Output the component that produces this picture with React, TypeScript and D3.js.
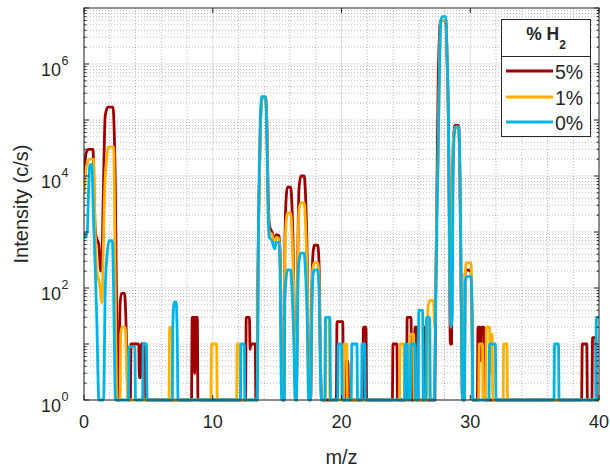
import React from 'react';
import * as d3 from 'd3';

// ---- data (m/z, intensity in c/s) ----
const xTicks = [0, 10, 20, 30, 40];
const yTickExps = [0, 2, 4, 6];
const seriesNames = ['5%', '1%', '0%'];
const seriesColors = ['#9E0000', '#FFB000', '#00B4E6'];

const h2_5: [number, number][] = [
  [0, 1e4], [0.15, 2.5e4], [0.35, 3e4], [0.7, 3e4], [0.8, 3000], [0.9, 950], [1.05, 700], [1.15, 600], [1.3, 200], [1.38, 250], [1.5, 5000], [1.65, 1.2e5], [1.85, 1.7e5], [2.25, 1.7e5], [2.35, 6e4], [2.43, 7500], [2.5, 200], [2.55, 20], [2.62, 1], [2.72, 1], [2.8, 50], [2.9, 80], [3.15, 80], [3.25, 30], [3.33, 6], [3.42, 1], [3.6, 1], [3.65, 10], [4.25, 10], [4.3, 2.5], [4.4, 2.5], [4.45, 10], [4.75, 10], [4.8, 1],
  [8.35, 1], [8.4, 30], [8.55, 30], [8.6, 3], [8.65, 30], [8.8, 30], [8.85, 1],
  [12.55, 1], [12.6, 30], [12.85, 30], [12.9, 8], [12.95, 10], [13.3, 10], [13.35, 1], [13.45, 1], [13.5, 100], [13.6, 5000], [13.7, 8e4], [13.85, 2.5e5], [14.1, 2.5e5], [14.2, 1e5], [14.3, 5000], [14.4, 1300], [14.6, 1000], [14.8, 750], [14.95, 900], [15.15, 850], [15.25, 300], [15.35, 3], [15.45, 1], [15.55, 1], [15.6, 500], [15.7, 4000], [15.8, 6300], [16.05, 6300], [16.15, 3000], [16.3, 100], [16.4, 2], [16.5, 1], [16.6, 300], [16.7, 6000], [16.85, 1e4], [17.1, 1e4], [17.2, 5000], [17.35, 200], [17.45, 2], [17.6, 1], [17.7, 100], [17.8, 450], [17.9, 580], [18.15, 580], [18.25, 300], [18.35, 10], [18.45, 1],
  [19.6, 1], [19.65, 25], [20.1, 25], [20.15, 1], [20.3, 1], [20.35, 5], [20.5, 5], [20.55, 1], [21.65, 1], [21.7, 20], [21.9, 20], [21.95, 1],
  [23.95, 1], [24.0, 10], [24.3, 10], [24.35, 1], [25.05, 1], [25.1, 30], [25.4, 30], [25.45, 1], [25.65, 1], [25.7, 20], [25.9, 20], [25.95, 1], [26.35, 1], [26.4, 20], [26.55, 20], [26.6, 1],
  [27.25, 1], [27.3, 30], [27.4, 3000], [27.5, 3.4e5], [27.6, 3e6], [27.7, 6e6], [28.1, 6e6], [28.2, 1.2e6], [28.3, 1e5], [28.4, 200], [28.45, 10], [28.55, 10], [28.6, 3000], [28.7, 5e4], [28.8, 8e4], [29.1, 8e4], [29.2, 9000], [29.3, 60], [29.4, 1], [29.55, 1], [29.6, 180], [29.7, 210], [30.05, 200], [30.15, 20], [30.2, 1],
  [30.55, 1], [30.6, 20], [30.75, 20], [30.8, 5], [30.85, 20], [31.05, 20], [31.1, 1], [38.65, 1], [38.7, 10], [39.05, 10], [39.1, 1], [39.45, 1], [39.5, 13], [39.75, 13], [39.8, 1], [40, 1],
];

const h2_1: [number, number][] = [
  [0, 5000], [0.2, 1.5e4], [0.45, 2e4], [0.75, 2e4], [0.85, 1500], [1.0, 200], [1.2, 120], [1.4, 55], [1.5, 500], [1.6, 5000], [1.75, 2e4], [1.9, 3.3e4], [2.3, 3.3e4], [2.38, 2000], [2.43, 90], [2.5, 5], [2.55, 1], [2.8, 1], [2.85, 15], [2.95, 20], [3.2, 20], [3.3, 5], [3.4, 1],
  [6.6, 1], [6.65, 20], [6.85, 20], [6.9, 1], [9.85, 1], [9.9, 10], [10.3, 10], [10.35, 1], [11.85, 1], [11.9, 10], [12.1, 10], [12.15, 1],
  [13.45, 1], [13.5, 50], [13.6, 4000], [13.7, 7e4], [13.85, 2.4e5], [14.1, 2.4e5], [14.2, 8e4], [14.3, 3000], [14.4, 1000], [14.6, 900], [14.8, 650], [14.95, 800], [15.15, 750], [15.25, 200], [15.35, 2], [15.45, 1], [15.55, 1], [15.6, 300], [15.7, 1500], [15.8, 2200], [16.05, 2200], [16.15, 1000], [16.3, 60], [16.4, 2], [16.5, 1], [16.6, 200], [16.7, 2500], [16.85, 3300], [17.1, 3300], [17.2, 1500], [17.35, 100], [17.45, 2], [17.6, 1], [17.7, 80], [17.8, 250], [17.9, 280], [18.15, 280], [18.25, 150], [18.35, 8], [18.45, 1],
  [18.75, 1], [18.8, 30], [19.05, 30], [19.1, 1], [20.15, 1], [20.2, 10], [20.4, 10], [20.45, 1],
  [24.5, 1], [24.55, 10], [24.85, 10], [24.9, 1], [25.3, 1], [25.35, 15], [25.6, 15], [25.65, 1], [26.65, 1], [26.7, 40], [26.85, 60], [27.15, 60], [27.25, 20], [27.3, 60], [27.4, 2000], [27.5, 2e4], [27.6, 8e5], [27.7, 6e6], [28.1, 6e6], [28.2, 1.3e6], [28.3, 1.2e5], [28.4, 400], [28.5, 20], [28.6, 2000], [28.7, 5e4], [28.85, 7.5e4], [29.1, 7.5e4], [29.2, 9000], [29.3, 60], [29.4, 1], [29.55, 1], [29.6, 150], [29.7, 280], [30.05, 280], [30.15, 20], [30.2, 1],
  [30.65, 1], [30.7, 10], [30.95, 10], [31.0, 1], [31.2, 1], [31.25, 20], [31.5, 20], [31.55, 3], [31.6, 15], [31.7, 15], [31.75, 1], [32.55, 1], [32.6, 10], [32.85, 10], [32.9, 1], [40, 1],
];

const h2_0: [number, number][] = [
  [0, 950], [0.1, 800], [0.25, 1000], [0.35, 5000], [0.45, 1.6e4], [0.6, 1.6e4], [0.75, 1400], [0.88, 200], [1.0, 24], [1.1, 2], [1.15, 1], [1.52, 1], [1.65, 90], [1.78, 360], [1.95, 700], [2.2, 700], [2.3, 90], [2.4, 2], [2.45, 1],
  [3.45, 1], [3.5, 9], [3.95, 9], [4.0, 1], [4.55, 1], [4.6, 10], [4.85, 10], [4.9, 1], [6.85, 1], [6.9, 20], [7.0, 56], [7.15, 56], [7.25, 10], [7.3, 1], [12.15, 1], [12.2, 10], [12.45, 10], [12.5, 1],
  [13.45, 1], [13.5, 10], [13.55, 1000], [13.65, 3e4], [13.8, 2.6e5], [14.1, 2.6e5], [14.2, 5e4], [14.3, 2000], [14.4, 800], [14.6, 700], [14.8, 500], [14.95, 660], [15.15, 660], [15.25, 100], [15.35, 1], [15.55, 1], [15.6, 60], [15.7, 150], [15.8, 210], [16.05, 210], [16.15, 100], [16.3, 10], [16.4, 1], [16.5, 1], [16.6, 60], [16.7, 300], [16.85, 420], [17.1, 420], [17.2, 200], [17.35, 20], [17.45, 1], [17.6, 1], [17.7, 40], [17.8, 180], [17.9, 210], [18.15, 210], [18.25, 100], [18.35, 5], [18.45, 1],
  [18.7, 1], [18.75, 30], [19.1, 30], [19.15, 1], [19.7, 1], [19.75, 10], [20.0, 10], [20.05, 1], [20.75, 1], [20.8, 10], [21.2, 10], [21.25, 1], [21.55, 1], [21.6, 10], [21.8, 10], [21.85, 1],
  [24.9, 1], [24.95, 10], [25.1, 10], [25.15, 1], [25.35, 1], [25.4, 10], [25.7, 10], [25.75, 1], [25.95, 1], [26.0, 40], [26.3, 40], [26.35, 1], [26.55, 1], [26.6, 30], [26.85, 30], [26.9, 1], [27.2, 1], [27.3, 40], [27.4, 1200], [27.5, 2e4], [27.6, 5e5], [27.7, 5e6], [27.8, 7e6], [28.1, 7e6], [28.2, 1.5e6], [28.3, 1.5e5], [28.4, 600], [28.5, 20], [28.6, 30], [28.65, 2500], [28.75, 5e4], [28.85, 7.5e4], [29.1, 7.5e4], [29.2, 1e4], [29.3, 60], [29.4, 1], [29.55, 1], [29.6, 120], [29.7, 160], [30.05, 160], [30.15, 20], [30.2, 1],
  [31.45, 1], [31.5, 10], [31.95, 10], [32.0, 1], [36.5, 1], [36.55, 10], [36.85, 10], [36.9, 1], [39.75, 1], [39.8, 30], [40, 30],
];

const seriesData = [h2_5, h2_1, h2_0];

// ---- layout ----
const W = 610, H = 469;
const L = 84, R = 599, T = 8, B = 400;
const INK = '#262626';
const FONT = 'Arial, "Liberation Sans", Helvetica, sans-serif';

export default function App() {
  const x = d3.scaleLinear().domain([0, 40]).range([L, R]);
  const y = d3.scaleLog().domain([1, 1e7]).range([B, T]);
  const line = d3.line<[number, number]>()
    .x(d => x(d[0]))
    .y(d => y(Math.max(1, d[1])))
    .curve(d3.curveMonotoneX);

  const xMinor = d3.range(2, 40, 2).filter(v => v % 10 !== 0);
  const yMinor: number[] = [];
  for (let e = 0; e < 7; e++) {
    for (let k = 1; k <= 9; k++) {
      const v = k * Math.pow(10, e);
      if (k === 1 && e % 2 === 0) continue;
      yMinor.push(v);
    }
  }
  const yMajor = yTickExps.map(e => Math.pow(10, e));

  const legX = 501.5, legY = 19.5, legW = 89, legH = 117, legSep = 56.5;
  const entryY = [71, 97, 122];

  return (
    <svg width={W} height={H} style={{ position: 'absolute', left: 0, top: 0, background: '#fff' }} fontFamily={FONT}>
      <rect x={0} y={0} width={W} height={H} fill="#fff" />
      <defs>
        <clipPath id="plotclip">
          <rect x={L} y={T - 2} width={R - L} height={B - T + 4} />
        </clipPath>
      </defs>
      {/* minor grid */}
      <g stroke={INK} strokeOpacity={0.3} strokeWidth={1} strokeDasharray="1,2">
        {xMinor.map(v => <line key={'xm' + v} x1={x(v)} x2={x(v)} y1={T} y2={B} />)}
        {yMinor.map(v => <line key={'ym' + v} x1={L} x2={R} y1={y(v)} y2={y(v)} />)}
      </g>
      {/* major grid */}
      <g stroke={INK} strokeOpacity={0.15} strokeWidth={1}>
        {xTicks.map(v => <line key={'xg' + v} x1={x(v)} x2={x(v)} y1={T} y2={B} />)}
        {yMajor.map(v => <line key={'yg' + v} x1={L} x2={R} y1={y(v)} y2={y(v)} />)}
      </g>
      {/* data */}
      <g clipPath="url(#plotclip)" fill="none" strokeWidth={2.8} strokeLinejoin="round" strokeLinecap="round">
        {seriesData.map((s, i) => (
          <path key={i} d={line(s) || ''} stroke={seriesColors[i]} />
        ))}
      </g>
      {/* axes box */}
      <rect x={L} y={T} width={R - L} height={B - T} fill="none" stroke={INK} strokeWidth={1} />
      {/* ticks */}
      <g stroke={INK} strokeWidth={1}>
        {xTicks.map(v => (
          <g key={'xt' + v}>
            <line x1={x(v)} x2={x(v)} y1={B} y2={B - 5} />
            <line x1={x(v)} x2={x(v)} y1={T} y2={T + 5} />
          </g>
        ))}
        {d3.range(0, 8).map(e => (
          <g key={'yt' + e}>
            <line x1={L} x2={L + 5} y1={y(Math.pow(10, e))} y2={y(Math.pow(10, e))} />
            <line x1={R} x2={R - 5} y1={y(Math.pow(10, e))} y2={y(Math.pow(10, e))} />
          </g>
        ))}
        {yMinor.filter(v => !Number.isInteger(Math.log10(v))).map(v => (
          <g key={'ymt' + v}>
            <line x1={L} x2={L + 2.5} y1={y(v)} y2={y(v)} />
            <line x1={R} x2={R - 2.5} y1={y(v)} y2={y(v)} />
          </g>
        ))}
      </g>
      {/* tick labels */}
      <g fill={INK} fontSize={18}>
        {xTicks.map(v => (
          <text key={'xl' + v} x={x(v)} y={B + 28} textAnchor="middle">{v}</text>
        ))}
        {yTickExps.map(e => (
          <g key={'yl' + e}>
            <text x={61} y={y(Math.pow(10, e)) + 12} textAnchor="end">10</text>
            <text x={61.5} y={y(Math.pow(10, e)) + 1} fontSize={12.5} textAnchor="start">{e}</text>
          </g>
        ))}
      </g>
      {/* axis labels */}
      <text x={(L + R) / 2} y={464} textAnchor="middle" fontSize={20} fill={INK}>m/z</text>
      <text transform={`translate(28, ${(T + B) / 2}) rotate(-90)`} textAnchor="middle" fontSize={20} fill={INK}>Intensity (c/s)</text>
      {/* legend */}
      <g>
        <rect x={legX} y={legY} width={legW} height={legH} fill="#fff" stroke={INK} strokeWidth={1} />
        <line x1={legX} x2={legX + legW} y1={legY + legSep - 19.5} y2={legY + legSep - 19.5} stroke={INK} strokeWidth={1} />
        <text x={legX + legW / 2} y={40} textAnchor="middle" fontSize={17.5} fontWeight="bold" fill={INK}>
          % H<tspan fontSize={12} dy={9}>2</tspan>
        </text>
        {seriesNames.map((n, i) => (
          <g key={n}>
            <line x1={506} x2={553} y1={entryY[i]} y2={entryY[i]} stroke={seriesColors[i]} strokeWidth={2.8} />
            <text x={555} y={entryY[i] + 7.5} fontSize={19.5} fill={INK}>{n}</text>
          </g>
        ))}
      </g>
    </svg>
  );
}
